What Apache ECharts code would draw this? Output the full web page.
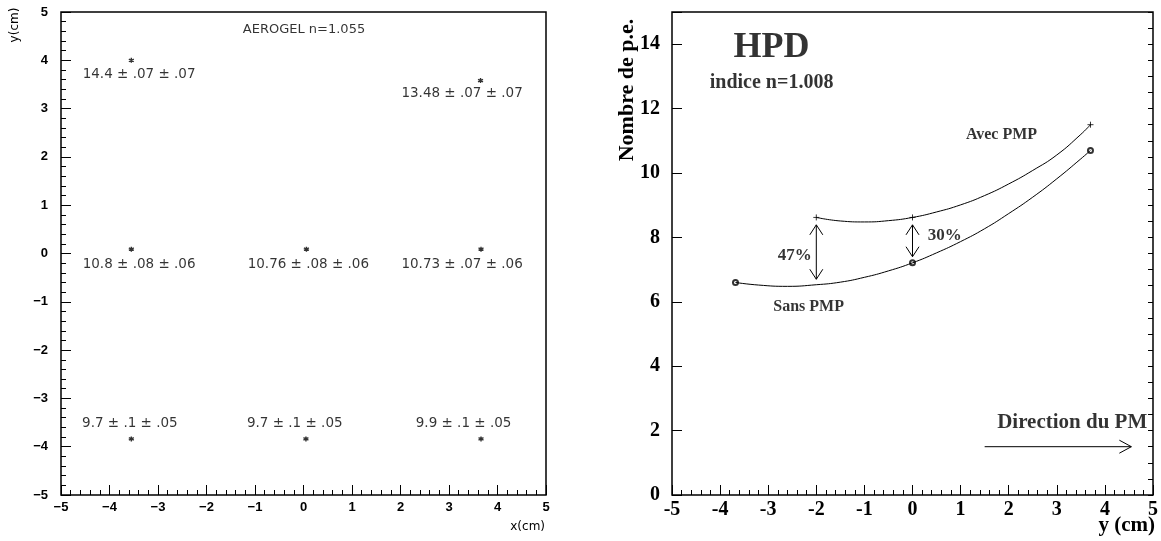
<!DOCTYPE html>
<html>
<head>
<meta charset="utf-8">
<script src="https://cdn.jsdelivr.net/npm/echarts@6/dist/echarts.min.js"></script>
<style>
html, body { margin: 0; padding: 0; background: #fff; }
#chart { width: 1161px; height: 541px; }
</style>
</head>
<body>
<div id="chart"></div>
<script>
// left panel: aerogel n=1.055, photo-electron counts at each (x, y) position
const aeroPoints = [[-3.55, 4.0], [3.65, 3.58], [-3.55, 0.09], [0.06, 0.09], [3.66, 0.09], [-3.55, -3.84], [0.05, -3.84], [3.66, -3.84]];
const aeroLabels = ['14.4 ± .07 ± .07', '13.48 ± .07 ± .07', '10.8 ± .08 ± .06', '10.76 ± .08 ± .06', '10.73 ± .07 ± .06', '9.7 ± .1 ± .05', '9.7 ± .1 ± .05', '9.9 ± .1 ± .05'];
const aeroLabelAt = [[-3.39, 3.71], [3.27, 3.32], [-3.39, -0.22], [0.10, -0.22], [3.27, -0.22], [-3.58, -3.53], [-0.18, -3.53], [3.30, -3.53]];
const aeroTitle = 'AEROGEL n=1.055';
const aeroTitleAt = [0.01, 4.63];

// right panel: HPD, n=1.008
const avecPts = [[-2, 8.62], [0, 8.62], [3.7, 11.5]];
const sansPts = [[-3.68, 6.6], [0, 7.21], [3.7, 10.7]];
// curves
const avecCurveX = [-2, -1.5, -1, -0.5, 0, 0.5, 1, 1.5, 2, 2.5, 3, 3.5, 3.7];
const avecCurveY = [8.62, 8.51, 8.48, 8.52, 8.62, 8.79, 9.01, 9.3, 9.66, 10.08, 10.56, 11.2, 11.5];
const sansCurveX = [-3.68, -3.2, -2.6, -2, -1.5, -1, -0.5, 0, 0.5, 1, 1.5, 2, 2.5, 3, 3.5, 3.7];
const sansCurveY = [6.6, 6.52, 6.48, 6.53, 6.61, 6.76, 6.96, 7.21, 7.52, 7.87, 8.27, 8.74, 9.25, 9.82, 10.44, 10.7];
// [x1, y1, x2, y2, heads]
const arrows = [[-2, 8.39, -2, 6.70, 2], [0, 8.39, 0, 7.40, 2], [1.5, 1.5, 4.55, 1.5, 1]];
const hpdTexts = ['HPD', 'indice n=1.008', 'Avec PMP', 'Sans PMP', '47%', '30%', 'Direction du PM'];
const hpdTextAt = [[-2.93, 13.9], [-2.93, 12.8], [1.85, 11.18], [-2.16, 5.84], [-2.45, 7.45], [0.67, 8.07], [3.32, 2.24]];
const hpdTextSize = [36, 20, 16, 16, 17, 17, 21];

const SANS = 'DejaVu Sans';
const SERIF = 'Liberation Serif';
const fmtMinus = v => String(v).replace('-', '\u2212');

const tickCommon = {inside: true, length: 10, lineStyle: {color: '#000', width: 1}};
const minorCommon = {show: true, length: 5, lineStyle: {color: '#000', width: 1}};
const noLine = {show: false, onZero: false};

const leftLabel = {
    color: '#000', fontFamily: 'Liberation Sans', fontWeight: 'bold', fontSize: 13,
    formatter: fmtMinus,
};
const rightLabel = {color: '#000', fontFamily: SERIF, fontWeight: 'bold', fontSize: 20};

function arrowItem(params, api) {
    const p1 = api.coord([api.value(0), api.value(1)]);
    const p2 = api.coord([api.value(2), api.value(3)]);
    const style = {stroke: '#000', lineWidth: 1, fill: 'none'};
    const head = (tip, from, L, W) => {
        const dx = tip[0] - from[0], dy = tip[1] - from[1];
        const d = Math.hypot(dx, dy) || 1;
        const ux = dx / d, uy = dy / d;
        const bx = tip[0] - ux * L, by = tip[1] - uy * L;
        return {
            type: 'polyline',
            shape: {points: [[bx - uy * W, by + ux * W], tip, [bx + uy * W, by - ux * W]]},
            style,
        };
    };
    const double = api.value(4) === 2;
    const L = double ? 10 : 12;
    const children = [
        {type: 'line', shape: {x1: p1[0], y1: p1[1], x2: p2[0], y2: p2[1]}, style},
        head(p2, p1, L, 6.5),
    ];
    if (double) {
        children.push(head(p1, p2, L, 6.5));
    }
    return {type: 'group', children};
}

const chart = echarts.init(document.getElementById('chart'), null, {renderer: 'canvas'});
chart.setOption({
    backgroundColor: '#fff',
    animation: false,
    grid: [
        {left: 61, top: 12, width: 485, height: 483, show: true, borderColor: '#000', borderWidth: 1.5},
        {left: 672, top: 12, width: 483, height: 483, show: true, borderColor: '#000', borderWidth: 1.5},
    ],
    xAxis: [{
        gridIndex: 0, type: 'value', min: -5, max: 5, interval: 1,
        axisLine: noLine, splitLine: {show: false},
        axisTick: tickCommon, minorTick: {...minorCommon, splitNumber: 5},
        axisLabel: {...leftLabel, margin: 6},
    }, {
        gridIndex: 1, type: 'value', min: -5, max: 5, interval: 1,
        axisLine: noLine, splitLine: {show: false},
        axisTick: tickCommon, minorTick: {...minorCommon, splitNumber: 5},
        axisLabel: {...rightLabel, margin: 5},
    }],
    yAxis: [{
        gridIndex: 0, type: 'value', min: -5, max: 5, interval: 1,
        axisLine: noLine, splitLine: {show: false},
        axisTick: tickCommon, minorTick: {...minorCommon, splitNumber: 5},
        axisLabel: {...leftLabel, margin: 13},
    }, {
        gridIndex: 1, type: 'value', min: 0, max: 15, interval: 2,
        axisLine: noLine, splitLine: {show: false},
        axisTick: tickCommon,
        axisLabel: {...rightLabel, margin: 12, formatter: v => (v % 2 === 0 ? String(v) : '')},
    }, {
        gridIndex: 1, type: 'value', min: 0, max: 15, interval: 0.5,
        axisLine: noLine, splitLine: {show: false},
        axisTick: {...tickCommon, length: 5},
        axisLabel: {show: false},
    }],
    series: [{
        type: 'scatter', xAxisIndex: 0, yAxisIndex: 0,
        symbol: 'path://M0,-1L0,1M-0.87,-0.5L0.87,0.5M-0.87,0.5L0.87,-0.5',
        symbolSize: 5,
        itemStyle: {color: '#000', borderColor: '#000', borderWidth: 1.4},
        data: aeroPoints,
    }, {
        type: 'scatter', xAxisIndex: 0, yAxisIndex: 0,
        symbolSize: 1, itemStyle: {color: 'transparent'},
        label: {show: true, position: 'inside', formatter: p => p.name, color: '#000', fontFamily: SANS, fontSize: 13.5},
        data: aeroLabels.map((t, i) => ({name: t, value: aeroLabelAt[i]}))
            .concat([{name: aeroTitle, value: aeroTitleAt, label: {fontSize: 13}}]),
    }, {
        type: 'line', xAxisIndex: 1, yAxisIndex: 1, smooth: true, showSymbol: false,
        lineStyle: {color: '#000', width: 1},
        data: avecCurveX.map((x, i) => [x, avecCurveY[i]]),
    }, {
        type: 'line', xAxisIndex: 1, yAxisIndex: 1, smooth: true, showSymbol: false,
        lineStyle: {color: '#000', width: 1},
        data: sansCurveX.map((x, i) => [x, sansCurveY[i]]),
    }, {
        type: 'scatter', xAxisIndex: 1, yAxisIndex: 1,
        symbol: 'path://M5,0L5,10M0,5L10,5', symbolSize: 6,
        itemStyle: {color: '#000', borderColor: '#000', borderWidth: 1},
        data: avecPts,
    }, {
        type: 'scatter', xAxisIndex: 1, yAxisIndex: 1,
        symbol: 'emptyCircle', symbolSize: 5,
        itemStyle: {color: '#000', borderColor: '#000', borderWidth: 1},
        data: sansPts,
    }, {
        type: 'custom', xAxisIndex: 1, yAxisIndex: 1,
        renderItem: arrowItem,
        encode: {x: [0, 2], y: [1, 3]},
        data: arrows,
    }, {
        type: 'scatter', xAxisIndex: 1, yAxisIndex: 1,
        symbolSize: 1, itemStyle: {color: 'transparent'},
        label: {show: true, position: 'inside', formatter: p => p.name, color: '#000', fontFamily: SERIF, fontWeight: 'bold'},
        data: hpdTexts.map((t, i) => ({name: t, value: hpdTextAt[i], label: {fontSize: hpdTextSize[i]}})),
    }],
    graphic: [{
        type: 'text', x: 15, y: 25, rotation: Math.PI / 2,
        style: {text: 'y(cm)', fill: '#000', font: `12px "${SANS}"`, align: 'center', verticalAlign: 'middle'},
    }, {
        type: 'text', x: 545, y: 527,
        style: {text: 'x(cm)', fill: '#000', font: `12px "${SANS}"`, align: 'right', verticalAlign: 'middle'},
    }, {
        type: 'text', x: 627, y: 90, rotation: Math.PI / 2,
        style: {text: 'Nombre de p.e.', fill: '#000', font: `bold 22px "${SERIF}"`, align: 'center', verticalAlign: 'middle'},
    }, {
        type: 'text', x: 1155, y: 526,
        style: {text: 'y (cm)', fill: '#000', font: `bold 21px "${SERIF}"`, align: 'right', verticalAlign: 'middle'},
    }],
});
</script>
</body>
</html>
